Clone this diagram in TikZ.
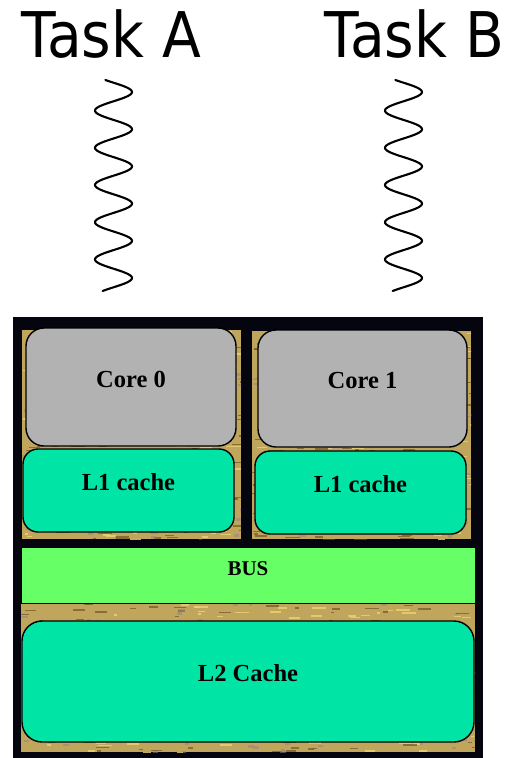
\documentclass[tikz,border=0pt]{standalone}
\usepackage{fontspec}
\setmainfont{Liberation Serif}
\newfontfamily\taskfont[FakeStretch=0.9]{DejaVu Sans}

\definecolor{chipframe}{RGB}{5,5,15}
\definecolor{coregray}{RGB}{178,178,178}
\definecolor{cachegreen}{RGB}{0,229,166}
\definecolor{busgreen}{RGB}{102,255,102}
\definecolor{diegold}{RGB}{192,166,92}
\definecolor{diedark}{RGB}{105,80,35}
\definecolor{dielight}{RGB}{235,212,115}
\definecolor{diepurple}{RGB}{150,130,140}

% die-photo texture: gold base with short horizontal streaks
\newcommand{\dietexture}[4]{%
  \fill[diegold] (#1,#2) rectangle (#3,#4);
  \begin{scope}
    \clip (#1,#2) rectangle (#3,#4);
    \foreach \k in {1,...,520}{%
      \pgfmathsetmacro{\tx}{#1+rnd*(#3-#1)}%
      \pgfmathsetmacro{\ty}{#2+rnd*(#4-#2)}%
      \pgfmathsetmacro{\tl}{3+rnd*12}%
      \pgfmathsetmacro{\tc}{rnd}%
      \ifdim\tc pt<0.45pt
        \fill[diedark,opacity=0.65] (\tx,\ty) rectangle ++(\tl,1.3);
      \else\ifdim\tc pt<0.8pt
        \fill[dielight,opacity=0.8] (\tx,\ty) rectangle ++(\tl,1.6);
      \else
        \fill[diepurple,opacity=0.55] (\tx,\ty) rectangle ++(2+\tl/3,2.5);
      \fi\fi
    }
  \end{scope}}

\tikzset{
  unitbox/.style={draw=black, line width=1.4pt, inner sep=0pt, outer sep=0pt},
  corebox/.style={unitbox, fill=coregray, rounded corners=18pt},
  l1box/.style={unitbox, fill=cachegreen, rounded corners=15pt},
  l2box/.style={unitbox, fill=cachegreen, rounded corners=20pt},
  busbox/.style={draw=black, line width=0.8pt, fill=busgreen, inner sep=0pt},
  boxtext/.style={anchor=base, inner sep=0pt, font=\fontsize{24.5}{26}\selectfont\bfseries},
  bustext/.style={anchor=base, inner sep=0pt, font=\fontsize{21}{23}\selectfont\bfseries},
  tasktext/.style={anchor=base, inner sep=0pt, font=\taskfont\fontsize{63}{66}\selectfont},
  thread/.style={line width=2.1pt, line cap=round}
}

\begin{document}
\begin{tikzpicture}[x=1pt, y=-1pt]
  \useasboundingbox (0,0) rectangle (508,758);
  \pgfmathsetseed{7}

  % chip package
  \fill[chipframe] (13,317) rectangle (483,758);
  \dietexture{22}{330}{241}{539}
  \dietexture{252}{331}{471}{539}
  \dietexture{21}{603}{475}{752}

  % functional units
  \node[corebox, minimum width=210pt, minimum height=118pt] (core0) at (131,387) {};
  \node[l1box,   minimum width=211pt, minimum height=83pt]  (l1a)   at (128.5,490.5) {};
  \node[corebox, minimum width=209pt, minimum height=117pt] (core1) at (362.5,388.5) {};
  \node[l1box,   minimum width=211pt, minimum height=83pt]  (l1b)   at (360.5,492.5) {};
  \node[busbox,  minimum width=454pt, minimum height=56pt]  (bus)   at (248,575) {};
  \node[l2box,   minimum width=452pt, minimum height=121pt] (l2)    at (248,681.5) {};

  \node[boxtext] (core0txt) at (core0.center) {Core 0};
  \node[boxtext] (l1atxt)   at (l1a.center)   {L1 cache};
  \node[boxtext] (core1txt) at (core1.center) {Core 1};
  \node[boxtext] (l1btxt)   at (l1b.center)   {L1 cache};
  \node[bustext] (bustxt)   at (bus.center)   {BUS};
  \node[boxtext] (l2txt)    at (l2.center)    {L2 Cache};

  % tasks and their threads
  \node[tasktext] (taskA) at (111.5,57) {Task A};
  \node[tasktext] (taskB) at (414.5,57) {Task B};

  \draw[thread] plot[domain=80:291, samples=240, smooth]
    ({113.5+18.5*cos(9.6774*(\x-92))}, {\x});
  \draw[thread] plot[domain=80:291, samples=240, smooth]
    ({403.5+18.5*cos(9.6774*(\x-92))}, {\x});
\end{tikzpicture}
\end{document}
